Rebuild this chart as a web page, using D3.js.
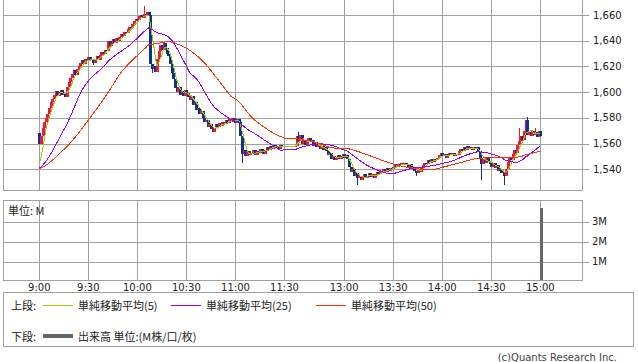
<!DOCTYPE html>
<html>
<head>
<meta charset="utf-8">
<script src="https://cdn.jsdelivr.net/npm/d3@7"></script>
<style>
  body { margin: 0; background: #fff; }
  svg { display: block; font-family: "DejaVu Sans", sans-serif; }
  .grid { stroke: #a0a0a0; shape-rendering: crispEdges; fill: none; }
  .jp { font-family: "Noto Sans CJK JP", sans-serif; }
</style>
</head>
<body>
<div id="chart"></div>
<script>
const timeTicks = ["9:00", "9:30", "10:00", "10:30", "11:00", "11:30", "13:00", "13:30", "14:00", "14:30", "15:00"];
const priceTicks = [1540, 1560, 1580, 1600, 1620, 1640, 1660];
const volTicks = [1, 2, 3];

// 1分足 終値 前場 9:00-11:30
const amClose = [
  1560, 1566, 1572, 1577, 1580, 1583, 1588, 1592, 1595, 1598,
  1601, 1597, 1600, 1602, 1598, 1599, 1596, 1604, 1608, 1611,
  1614, 1617, 1613, 1618, 1620, 1623, 1625, 1622, 1626, 1624,
  1627, 1625, 1626, 1623, 1626, 1628, 1625, 1629, 1631, 1630,
  1633, 1632, 1640, 1636, 1638, 1641, 1638, 1642, 1640, 1643,
  1645, 1644, 1647, 1646, 1649, 1651, 1650, 1653, 1655, 1657,
  1656, 1659, 1660, 1658, 1661, 1659, 1662, 1660, 1622, 1618,
  1620, 1616, 1626, 1632, 1637, 1633, 1638, 1634, 1630, 1628,
  1622, 1615, 1610, 1603, 1600, 1604, 1598, 1601, 1597, 1602,
  1599, 1596, 1594, 1597, 1590, 1592, 1586, 1588, 1583, 1585,
  1580, 1577, 1578, 1573, 1575, 1571, 1569, 1572, 1575, 1573,
  1576, 1574, 1577, 1575, 1578, 1576, 1579, 1577, 1580, 1578,
  1576, 1579, 1577, 1566, 1552, 1555, 1550, 1554, 1551, 1553,
  1552, 1555, 1551, 1554, 1553, 1556, 1554, 1552, 1555, 1557,
  1555, 1558, 1556, 1559, 1557, 1558, 1556, 1559, 1557, 1558,
  1557
];

// 後場 12:30-15:00
const pmClose = [
  1558, 1566, 1562, 1567, 1560, 1563, 1559, 1562, 1564, 1561,
  1563, 1558, 1561, 1557, 1559, 1556, 1558, 1555, 1557, 1554,
  1551, 1553, 1548, 1550, 1547, 1549, 1551, 1548, 1550, 1552,
  1549, 1551, 1548, 1542, 1538, 1540, 1535, 1537, 1533, 1535,
  1532, 1534, 1536, 1533, 1535, 1537, 1534, 1536, 1533, 1536,
  1538, 1536, 1539, 1537, 1540, 1538, 1541, 1539, 1541, 1540,
  1542, 1544, 1542, 1544, 1543, 1545, 1543, 1545, 1544, 1542,
  1544, 1542, 1541, 1539, 1537, 1540, 1538, 1541, 1543, 1545,
  1544, 1547, 1545, 1548, 1546, 1548, 1547, 1549, 1551, 1553,
  1550, 1552, 1549, 1551, 1553, 1551, 1553, 1550, 1552, 1551,
  1554, 1556, 1554, 1557, 1555, 1558, 1556, 1557, 1555, 1557,
  1556, 1557, 1554, 1548, 1544, 1548, 1545, 1549, 1546, 1544,
  1542, 1545, 1541, 1543, 1539, 1540, 1537, 1538, 1535, 1540,
  1546, 1549, 1547, 1552, 1555, 1553, 1559, 1562, 1566, 1563,
  1570, 1578, 1567, 1569, 1566, 1570, 1567, 1569, 1565, 1570,
  1566
];

const sessionOpen = [1568, 1557];   // 寄り値
const prevClose = 1540;             // 前日終値 (移動平均の初期値)

const wickHigh = [["10:04", 1667], ["12:32", 1569], ["14:47", 1572], ["14:52", 1581], ["14:57", 1572]];
const wickLow = [["9:33", 1621], ["10:09", 1615], ["11:04", 1545], ["13:08", 1528], ["13:44", 1535], ["14:24", 1532], ["14:38", 1528]];

const volTimes = ["9:00", "9:01", "9:09", "9:10", "12:30", "14:37", "14:38", "14:46", "14:47", "14:49", "14:50", "14:55", "14:56", "14:57", "14:58", "14:59", "15:00"];
const volValues = [0.06, 0.05, 0.04, 0.04, 0.05, 0.05, 0.04, 0.04, 0.05, 0.05, 0.04, 0.05, 0.06, 0.05, 0.06, 0.07, 3.7];

const maPeriods = [5, 25, 50];
const maColors = ["#99cc00", "#9900ff", "#ff3300"];
const upColor = "#f5143c";
const downColor = "#0a3296";

const width = 638;
const height = 362;

// 時刻 -> 横位置の通し番号 (昼休みは詰める)
function slot(t) {
  const [h, m] = t.split(":").map(Number);
  const mins = h * 60 + m;
  return mins < 12 * 60 ? mins - 540 : mins - 750 + 156.5;
}
function fmt(mins) {
  return Math.floor(mins / 60) + ":" + String(mins % 60).padStart(2, "0");
}

// 足データ
const candles = [];
[[amClose, 540], [pmClose, 750]].forEach(([closes, start], s) => {
  closes.forEach((c, i) => {
    const o = i === 0 ? sessionOpen[s] : closes[i - 1];
    candles.push({ time: fmt(start + i), open: o, close: c, high: Math.max(o, c), low: Math.min(o, c) });
  });
});
const byTime = new Map(candles.map(d => [d.time, d]));
wickHigh.forEach(([t, v]) => { const d = byTime.get(t); if (d) d.high = Math.max(d.high, v); });
wickLow.forEach(([t, v]) => { const d = byTime.get(t); if (d) d.low = Math.min(d.low, v); });

const x = d3.scaleLinear().domain([-22.2, 332.6]).range([3, 583]);
const y = d3.scaleLinear().domain([1540, 1660]).range([169.3, 15]);
const yv = d3.scaleLinear().domain([0, 3]).range([281.5, 221.5]);

const svg = d3.select("#chart").append("svg")
  .attr("width", width)
  .attr("height", height);

const px = v => Math.round(v) + 0.5;

// =====================
// 上段 価格
// =====================
svg.append("clipPath").attr("id", "clipPrice")
  .append("rect").attr("x", 4).attr("y", 0).attr("width", 578).attr("height", 190);

const upper = svg.append("g");
priceTicks.forEach(p => {
  upper.append("line").attr("class", "grid")
    .attr("x1", 3).attr("x2", 589).attr("y1", px(y(p))).attr("y2", px(y(p)));
  upper.append("text")
    .attr("x", 593).attr("y", y(p))
    .attr("dominant-baseline", "central")
    .attr("font-size", 10).attr("fill", "#222")
    .text(d3.format(",")(p));
});
timeTicks.forEach(t => {
  upper.append("line").attr("class", "grid")
    .attr("x1", px(x(slot(t)))).attr("x2", px(x(slot(t))))
    .attr("y1", 0).attr("y2", 190);
});
upper.append("rect").attr("class", "grid")
  .attr("x", 3.5).attr("y", -0.5).attr("width", 579).attr("height", 190.5);

const plot = svg.append("g").attr("clip-path", "url(#clipPrice)");

plot.selectAll(".wick")
  .data(candles.filter(d => d.high > d.low))
  .join("rect")
  .attr("x", d => Math.round(x(slot(d.time))))
  .attr("width", 1)
  .attr("y", d => Math.round(y(d.high)))
  .attr("height", d => Math.max(1, Math.round(y(d.low)) - Math.round(y(d.high))))
  .attr("fill", d => d.close >= d.open ? upColor : downColor)
  .attr("shape-rendering", "crispEdges");

plot.selectAll(".body")
  .data(candles)
  .join("rect")
  .attr("x", d => Math.round(x(slot(d.time))) - 1)
  .attr("width", 3)
  .attr("y", d => Math.round(y(Math.max(d.open, d.close))))
  .attr("height", d => Math.max(1, Math.round(y(Math.min(d.open, d.close))) - Math.round(y(Math.max(d.open, d.close)))))
  .attr("fill", d => d.close >= d.open ? upColor : downColor)
  .attr("shape-rendering", "crispEdges");

// 単純移動平均
const closes = candles.map(d => d.close);
maPeriods.forEach((n, k) => {
  const pts = closes.map((c, i) => {
    let sum = 0;
    for (let j = i - n + 1; j <= i; j++) sum += j < 0 ? prevClose : closes[j];
    return [x(slot(candles[i].time)), y(sum / n)];
  });
  plot.append("path")
    .attr("d", d3.line()(pts))
    .attr("fill", "none")
    .attr("stroke", maColors[k])
    .attr("stroke-width", 1)
    .attr("shape-rendering", "crispEdges");
});

// =====================
// 下段 出来高
// =====================
const lower = svg.append("g");
volTicks.forEach(v => {
  lower.append("line").attr("class", "grid")
    .attr("x1", 3).attr("x2", 589).attr("y1", px(yv(v))).attr("y2", px(yv(v)));
  lower.append("text")
    .attr("x", 592).attr("y", yv(v))
    .attr("dominant-baseline", "central")
    .attr("font-size", 10).attr("fill", "#222")
    .text(v + "M");
});
timeTicks.forEach(t => {
  lower.append("line").attr("class", "grid")
    .attr("x1", px(x(slot(t)))).attr("x2", px(x(slot(t))))
    .attr("y1", 200).attr("y2", 281);
  lower.append("text")
    .attr("x", x(slot(t))).attr("y", 291)
    .attr("text-anchor", "middle")
    .attr("font-size", 10).attr("fill", "#222")
    .text(t);
});

lower.selectAll(".vol")
  .data(volTimes.map((t, i) => ({ time: t, v: volValues[i] })))
  .join("rect")
  .attr("x", d => Math.round(x(slot(d.time))))
  .attr("width", 3)
  .attr("y", d => Math.min(yv(d.v), 280))
  .attr("height", d => Math.max(1, 281 - Math.min(yv(d.v), 280)))
  .attr("fill", "#666")
  .attr("shape-rendering", "crispEdges");

lower.append("rect").attr("class", "grid")
  .attr("x", 3.5).attr("y", 200.5).attr("width", 579).attr("height", 80);

lower.append("text").attr("class", "jp")
  .attr("x", 8).attr("y", 210)
  .attr("dominant-baseline", "central")
  .attr("font-size", 11).attr("fill", "#222")
  .text("単位: M");

// =====================
// 凡例
// =====================
const legend = svg.append("g").attr("class", "jp").attr("font-size", 11).attr("fill", "#222");
legend.append("rect").attr("class", "grid")
  .attr("x", 3.5).attr("y", 292.5).attr("width", 630).attr("height", 54)
  .attr("stroke", "#222");

const legendItems = [
  { x: 43, label: "単純移動平均(5)" },
  { x: 171, label: "単純移動平均(25)" },
  { x: 316, label: "単純移動平均(50)" }
];
legend.append("text").attr("x", 11).attr("y", 305).attr("dominant-baseline", "central").text("上段:");
legendItems.forEach((d, i) => {
  legend.append("line")
    .attr("x1", d.x).attr("x2", d.x + 30).attr("y1", 305.5).attr("y2", 305.5)
    .attr("stroke", maColors[i]).attr("stroke-width", 1);
  legend.append("text").attr("x", d.x + 35).attr("y", 305)
    .attr("dominant-baseline", "central").text(d.label);
});
legend.append("text").attr("x", 11).attr("y", 336).attr("dominant-baseline", "central").text("下段:");
legend.append("line")
  .attr("x1", 43).attr("x2", 73).attr("y1", 336).attr("y2", 336)
  .attr("stroke", "#666").attr("stroke-width", 4);
legend.append("text").attr("x", 78).attr("y", 336)
  .attr("dominant-baseline", "central").text("出来高 単位:(M株/口/枚)");

svg.append("text")
  .attr("x", 617).attr("y", 357)
  .attr("text-anchor", "end")
  .attr("dominant-baseline", "central")
  .attr("font-size", 10).attr("fill", "#444")
  .text("(c)Quants Research Inc.");
</script>
</body>
</html>
